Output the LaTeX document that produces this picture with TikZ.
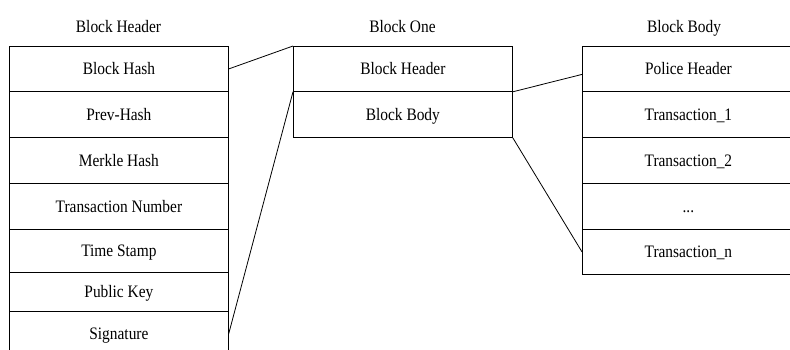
\documentclass[tikz,border=0pt]{standalone}
\usepackage{fontspec}
\setmainfont{Liberation Serif}[FakeStretch=0.88]
\begin{document}
\begin{tikzpicture}[x=1pt,y=-1pt,
  line width=0.8pt,
  every node/.style={font=\fontsize{17.5pt}{20pt}\selectfont, inner sep=0pt,
    text height=11.6pt, text depth=0pt},
  cell/.style={draw, rectangle, anchor=north west, minimum width=#1},
  lcell/.style={cell=219pt},
  mcell/.style={cell=219pt},
  rcell/.style={cell=212pt},
  title/.style={anchor=base, text height=, text depth=},
  link/.style={draw, line width=0.8pt}]
\useasboundingbox (0,0) rectangle (790,349);

% column titles
\node[title] (tl) at (118.5,32) {Block Header};
\node[title] (tm) at (402.5,32) {Block One};
\node[title] (tr) at (684,32) {Block Body};

% block header fields
\node[lcell, minimum height=45pt] (hash)  at (9,46)  {Block Hash};
\node[lcell, minimum height=46pt] (prev)  at (9,91)  {Prev-Hash};
\node[lcell, minimum height=46pt] (merk)  at (9,137) {Merkle Hash};
\node[lcell, minimum height=46pt] (tnum)  at (9,183) {Transaction Number};
\node[lcell, minimum height=43pt] (time)  at (9,229) {Time Stamp};
\node[lcell, minimum height=39pt] (pkey)  at (9,272) {Public Key};
\node[lcell, minimum height=44pt] (sig)   at (9,311) {Signature};

% the block itself
\node[mcell, minimum height=45pt] (bhead) at (293,46) {Block Header};
\node[mcell, minimum height=46pt] (bbody) at (293,91) {Block Body};

% block body entries
\node[rcell, minimum height=45pt] (police) at (582,46)  {Police Header};
\node[rcell, minimum height=46pt] (tx1)    at (582,91)  {Transaction\_1};
\node[rcell, minimum height=46pt] (tx2)    at (582,137) {Transaction\_2};
\node[rcell, minimum height=46pt] (dots)   at (582,183) {...};
\node[rcell, minimum height=45pt] (txn)    at (582,229) {Transaction\_n};

% expansion lines
\coordinate (pin) at ([yshift=-5.5pt]police.west);
\path[link] (hash.east) -- (bhead.north west);
\path[link] (sig.east) -- (bhead.south west);
\path[link] (bhead.south east) -- (pin);
\path[link] (bbody.south east) -- (txn.west);
\end{tikzpicture}
\end{document}
